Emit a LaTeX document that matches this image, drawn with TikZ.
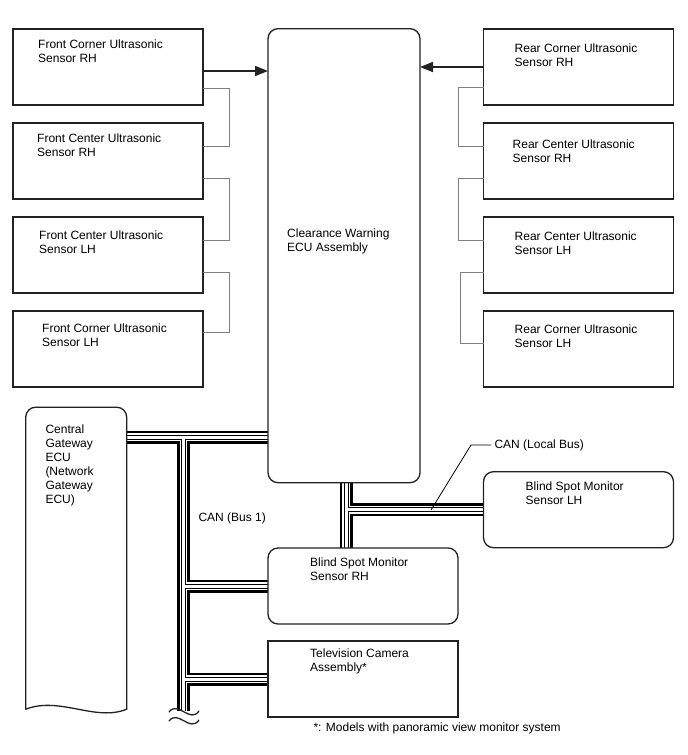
\documentclass[tikz,border=0pt]{standalone}
\usepackage{fontspec}
\setmainfont{Liberation Sans}
\usetikzlibrary{arrows.meta}
\definecolor{edge}{RGB}{34,34,34}
\definecolor{wire}{RGB}{128,128,128}
\pgfdeclarelayer{back}\pgfsetlayers{back,main}
\tikzset{box/.style={draw=edge,line width=1.3pt,minimum width=190pt,minimum height=76pt,inner sep=0pt,outer sep=0pt},rbox/.style={box,rounded corners=10pt},txt/.style={align=left,inner sep=0pt,anchor=north west},lnk/.style={draw=wire,line width=1pt},sig/.style={-{Triangle[length=13pt,width=10pt]},line width=1.5pt,draw=edge},tld/.style={line width=1.3pt,draw=edge,line cap=round},gwl/.style={line width=1.3pt,draw=edge,line cap=round}}

\begin{document}
\begin{tikzpicture}[x=1pt,y=-1pt,font=\fontsize{12}{14}\selectfont]
\useasboundingbox (0,0) rectangle (688,755);
\node[box] (fcrh) at (108,67) {};
\node[box] (fcr) at (108,161) {};
\node[box] (fcl) at (108,255) {};
\node[box] (fcll) at (108,349) {};
\node[box] (rcrh) at (578.5,67) {};
\node[box] (rcr) at (578.5,161) {};
\node[box] (rcl) at (578.5,255) {};
\node[box] (rcll) at (578.5,349) {};
\node[rbox,minimum width=152pt,minimum height=454pt] (ecu) at (344,255.7) {};
\node[minimum width=101pt,minimum height=302pt,inner sep=0pt,outer sep=0pt] (gw) at (76.2,558.2) {};
\node[rbox] (bsml) at (578.5,509.7) {};
\node[rbox] (bsmr) at (363,586) {};
\node[box] (tv) at (363,679) {};
\node[txt] (fcrh-t) at ([shift={(25,11)}]fcrh.north west) {Front Corner Ultrasonic\\Sensor RH};
\node[txt] (fcr-t) at ([shift={(24,11)}]fcr.north west) {Front Center Ultrasonic\\Sensor RH};
\node[txt] (fcl-t) at ([shift={(26,14)}]fcl.north west) {Front Center Ultrasonic\\Sensor LH};
\node[txt] (fcll-t) at ([shift={(29,13)}]fcll.north west) {Front Corner Ultrasonic\\Sensor LH};
\node[txt] (rcrh-t) at ([shift={(31,15)}]rcrh.north west) {Rear Corner Ultrasonic\\Sensor RH};
\node[txt] (rcr-t) at ([shift={(29,17)}]rcr.north west) {Rear Center Ultrasonic\\Sensor RH};
\node[txt] (rcl-t) at ([shift={(31,15)}]rcl.north west) {Rear Center Ultrasonic\\Sensor LH};
\node[txt] (rcll-t) at ([shift={(31,14)}]rcll.north west) {Rear Corner Ultrasonic\\Sensor LH};
\node[txt] (ecu-t) at ([shift={(19,200)}]ecu.north west) {Clearance Warning\\ECU Assembly};
\node[txt] (gw-t) at ([shift={(19.6,17.8)}]gw.north west) {Central\\Gateway\\ECU\\(Network\\Gateway\\ECU)};
\node[txt] (bsml-t) at ([shift={(42,10)}]bsml.north west) {Blind Spot Monitor\\Sensor LH};
\node[txt] (bsmr-t) at ([shift={(42,9.5)}]bsmr.north west) {Blind Spot Monitor\\Sensor RH};
\node[txt] (tv-t) at ([shift={(42,7.5)}]tv.north west) {Television Camera\\Assembly*};
\node[anchor=west] (cb1) at (195,518) {CAN (Bus 1)};
\node[anchor=west] (lb) at (491,445) {CAN (Local Bus)};
\node[anchor=west] (note) at (310,728) {*: Models with panoramic view monitor system};
\coordinate (j0) at (183.5,437);\coordinate (cut) at (183.5,711);\coordinate (lj) at (346,509.7);\coordinate (lbp) at (431,510);
\coordinate (fa) at ([shift={(0,4)}]fcrh.east);
\draw[gwl,rounded corners=10pt] (gw.south west) -- (gw.north west) -- (gw.north east) -- (gw.south east);
\draw[gwl] (gw.south east) .. controls (95,722) and (60,696) .. (gw.south west);
\begin{pgfonlayer}{back}
\foreach \w/\c in {13/black,7.6/white,5/black,3/white}
  \draw[line width=\w pt,\c] (gw.east |- j0) -- (ecu.west |- j0) (j0) -- (cut) (j0 |- bsmr.west) -- (bsmr.west) (j0 |- tv.west) -- (tv.west) (lj |- ecu.south) -- (lj |- bsmr.north) (lj) -- (bsml.west |- lj);
\end{pgfonlayer}
\draw[tld] (169,712) .. controls (178,700) and (190,724) .. (199,711);
\draw[tld] (169,721) .. controls (178,709) and (190,733) .. (199,720);
\draw[sig] (fa) -- (fa -| ecu.west);
\draw[sig] (rcrh.west) -- (rcrh.west -| ecu.east);
\draw[lnk] ([shift={(0,21)}]fcrh.east) -- ++(26,0) |- ([shift={(0,-15)}]fcr.east);
\draw[lnk] ([shift={(0,17)}]fcr.east) -- ++(26,0) |- ([shift={(0,-15)}]fcl.east);
\draw[lnk] ([shift={(0,17)}]fcl.east) -- ++(26,0) |- ([shift={(0,-17)}]fcll.east);
\draw[lnk] ([shift={(0,20)}]rcrh.west) -- ++(-25,0) |- ([shift={(0,-15)}]rcr.west);
\draw[lnk] ([shift={(0,17)}]rcr.west) -- ++(-25,0) |- ([shift={(0,-15)}]rcl.west);
\draw[lnk] ([shift={(0,17)}]rcl.west) -- ++(-23,0) |- ([shift={(0,-6)}]rcll.west);
\draw[line width=0.8pt] (lb.west) -- ++(-20,0) -- (lbp);
\end{tikzpicture}
\end{document}
